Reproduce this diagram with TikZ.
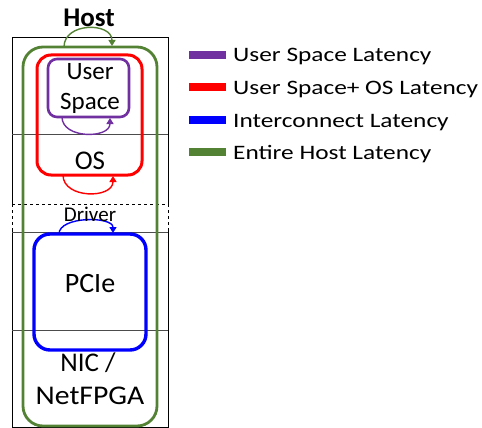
\documentclass[tikz,border=0pt]{standalone}
\usepackage{fontspec}
\setmainfont{Carlito}
\newfontfamily\legfont[FakeStretch=1.235]{Carlito}
\newfontfamily\widefont[FakeStretch=1.1]{Carlito}
\usetikzlibrary{arrows.meta}
\definecolor{cpurple}{HTML}{7030A0}
\definecolor{cred}{HTML}{FF0000}
\definecolor{cblue}{HTML}{0000FF}
\definecolor{cgreen}{HTML}{548235}
\tikzset{
  lay/.style={draw=black, line width=0.9pt},
  sep/.style={draw=black!70, line width=0.9pt},
  lat/.style={line width=#1},
  arc/.style={line width=1.4pt, -{Triangle[length=6pt,width=7pt]}},
  lbl/.style={anchor=base, inner sep=0pt, font=\fontsize{25}{30}\selectfont},
  legtxt/.style={anchor=base west, inner sep=0pt, font=\legfont\fontsize{20.5}{24}\selectfont},
}
\begin{document}
\begin{tikzpicture}[x=1pt,y=-1pt]
\useasboundingbox (0,0) rectangle (482,428);
% layers
\draw[lay] (12,37) rectangle (168,427);
\draw[sep] (12,134) -- (168,134);
\draw[sep] (12,232) -- (168,232);
\draw[sep] (12,330) -- (168,330);
\draw[white, line width=1.5pt] (12,205) -- (12,231) (168,205) -- (168,231);
\draw[black, line width=0.9pt, dashed] (12,204) -- (168,204) (12,204) -- (12,232) (168,204) -- (168,232);
% latency boxes
\draw[cgreen, lat=2.8pt, rounded corners=20pt] (23,47) rectangle (157,426);
\draw[cred, lat=3pt, rounded corners=14pt] (37,55) rectangle (142,175);
\draw[cpurple, lat=2.6pt, rounded corners=9pt] (48,59) rectangle (129,117);
\draw[cblue, lat=3.4pt, rounded corners=16pt] (34,234) rectangle (146,350);
% arcs
\coordinate (ga) at (64,47); \coordinate (gb) at (112,46);
\draw[cgreen, arc] (ga) .. controls (64,22) and (112,22) .. (gb);
\coordinate (pa) at (62,117); \coordinate (pb) at (110,118);
\draw[cpurple, arc] (pa) .. controls (62,139) and (110,139) .. (pb);
\coordinate (ra) at (63,175); \coordinate (rb) at (113,176);
\draw[cred, arc] (ra) .. controls (63,199) and (113,199) .. (rb);
\coordinate (ba) at (59,234); \coordinate (bb) at (113,233);
\draw[cblue, arc] (ba) .. controls (59,216) and (113,216) .. (bb);
% labels
\node[lbl, font=\bfseries\fontsize{27}{30}\selectfont] (host) at (89,27) {Host};
\node[lbl] (user) at (90,79) {User};
\node[lbl] (space) at (90,110) {Space};
\node[lbl, font=\fontsize{27}{30}\selectfont] (os) at (90,169) {OS};
\node[lbl, font=\fontsize{21}{24}\selectfont] (drv) at (90,221) {Driver};
\node[lbl, font=\fontsize{28}{30}\selectfont] (pcie) at (90,292) {PCIe};
\node[lbl, font=\fontsize{27}{30}\selectfont] (nic) at (88,371) {NIC /};
\node[lbl, font=\widefont\fontsize{27}{30}\selectfont] (net) at (90,404) {NetFPGA};
% legend
\fill[cpurple] (189,51) rectangle (226,59);
\fill[cred] (189,83) rectangle (226,91);
\fill[cblue] (189,116) rectangle (226,124);
\fill[cgreen] (189,148) rectangle (226,156);
\node[legtxt] (l1) at (233,62) {User Space Latency};
\node[legtxt] (l2) at (233,94) {User Space+ OS Latency};
\node[legtxt] (l3) at (233,127) {Interconnect Latency};
\node[legtxt] (l4) at (233,159) {Entire Host Latency};
\end{tikzpicture}
\end{document}
